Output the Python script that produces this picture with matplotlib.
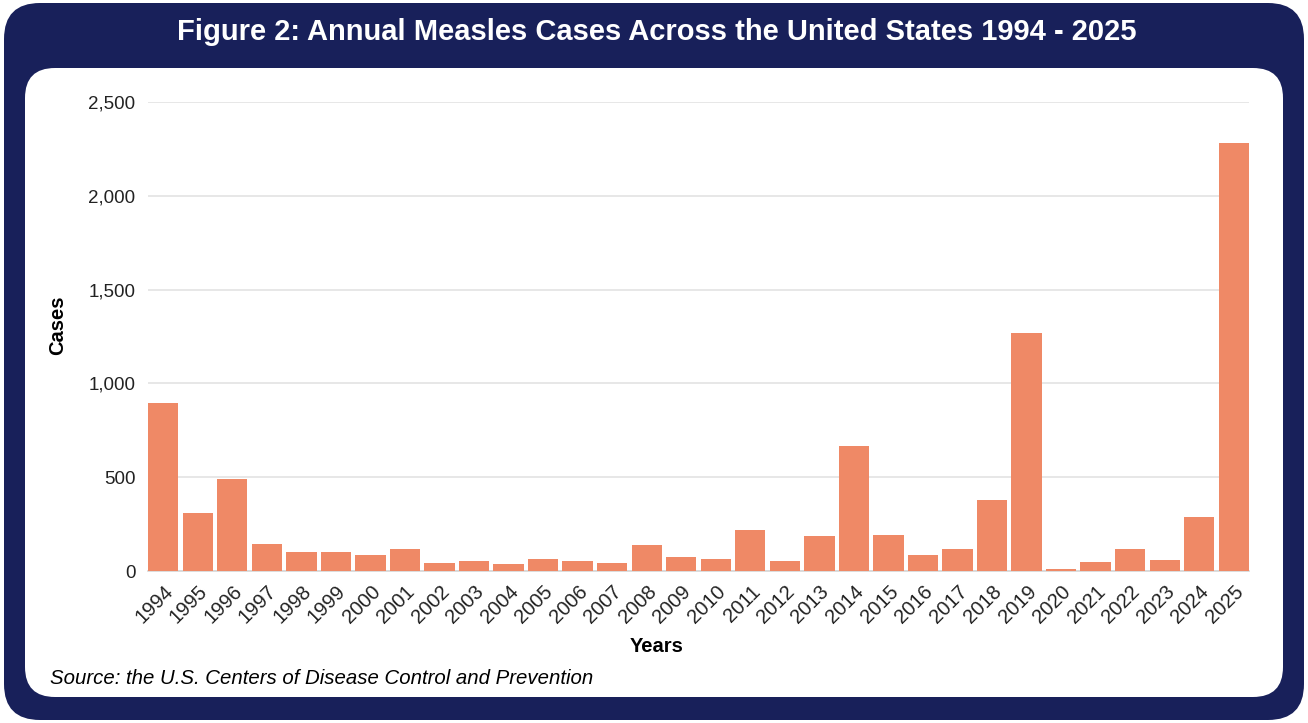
import matplotlib.pyplot as plt
from matplotlib.patches import FancyBboxPatch
from matplotlib.ticker import FuncFormatter

plt.rcParams['font.family'] = ['Liberation Sans', 'DejaVu Sans']

# Data
years = [str(y) for y in range(1994, 2026)]
cases = [895, 307, 492, 142, 101, 100, 85, 117, 44, 55, 37, 66, 55, 43, 141, 73,
         64, 219, 55, 189, 666, 192, 87, 119, 380, 1271, 13, 48, 119, 59, 286, 2281]

title = "Figure 2: Annual Measles Cases Across the United States 1994 - 2025"
source = "Source: the U.S. Centers of Disease Control and Prevention"

navy = "#18205a"
bar_color = "#ef8966"

W, H = 1308, 723
fig = plt.figure(figsize=(W / 100, H / 100), dpi=100)

# background frame in pixel coordinates
bg = fig.add_axes([0, 0, 1, 1])
bg.set_xlim(0, W)
bg.set_ylim(H, 0)
bg.axis("off")
bg.add_patch(FancyBboxPatch((4 + 36, 3 + 36), W - 8 - 72, H - 6 - 72,
                            boxstyle="round,pad=36", fc=navy, ec="none"))
bg.add_patch(FancyBboxPatch((25 + 30, 68 + 30), 1283 - 25 - 60, 697 - 68 - 60,
                            boxstyle="round,pad=30", fc="white", ec="none"))
bg.text(W / 2 + 3, 32, title, color="white", fontsize=21, fontweight="bold",
        ha="center", va="center")
bg.text(50, 678, source, fontsize=14.7, style="italic", ha="left", va="center")
bg.text(58, 325, "Cases", fontsize=14.5, fontweight="bold", rotation=90,
        ha="center", va="center")
bg.text(657, 647, "Years", fontsize=14.5, fontweight="bold",
        ha="center", va="center")

# bar chart
ax = fig.add_axes([148 / W, 1 - 571 / H, (1249 - 148) / W, (571 - 102) / H])
x = range(len(years))
ax.bar(x, cases, width=0.88, color=bar_color, zorder=3)
ax.set_xlim(-0.44, len(years) - 1 + 0.44)
ax.set_ylim(0, 2500)
ax.set_yticks([0, 500, 1000, 1500, 2000, 2500])
ax.yaxis.set_major_formatter(FuncFormatter(lambda v, p: f"{int(v):,}"))
ax.set_xticks(list(x))
ax.set_xticklabels(years, rotation=45, ha="right", rotation_mode="anchor")
ax.tick_params(axis="y", length=0, labelsize=13.5, colors="#222222", pad=9)
ax.tick_params(axis="x", length=0, labelsize=14.5, colors="#222222", pad=8)
ax.grid(axis="y", color="#e3e3e3", linewidth=1.2, zorder=0)
for s in ["top", "right", "left"]:
    ax.spines[s].set_visible(False)
ax.spines["bottom"].set_color("#d6d6d6")
ax.spines["bottom"].set_linewidth(1.2)

fig.savefig("out.png", dpi=100)
